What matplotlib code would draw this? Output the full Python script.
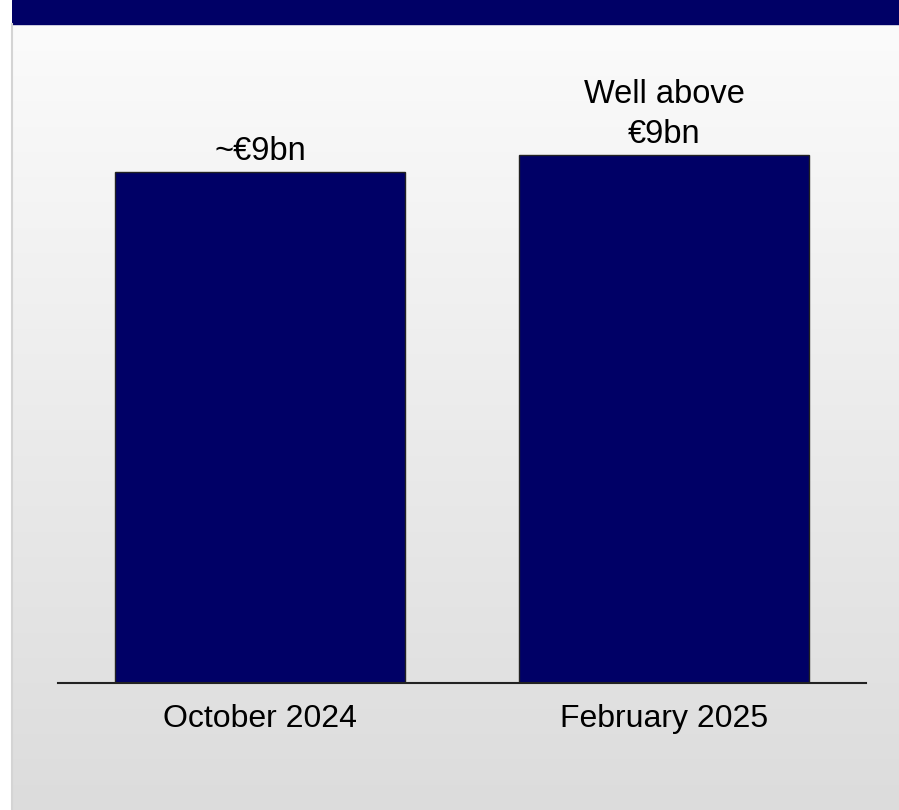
import matplotlib
matplotlib.use('Agg')
import matplotlib.pyplot as plt
import numpy as np

# valeurs du graphique
periodes = ['October 2024', 'February 2025']
valeurs = [9.0, 9.3]
etiquettes = ['~€9bn', 'Well above\n€9bn']

bleu = '#000066'

fig = plt.figure(figsize=(8.99, 8.10), dpi=100)
fig.patch.set_facecolor('white')

# fond en dégradé (clair en haut, gris en bas)
fond = fig.add_axes([12/899, 0, 1 - 12/899, 1], zorder=0)
degrade = np.linspace(0, 1, 256).reshape(-1, 1)
fond.imshow(degrade, aspect='auto', cmap=matplotlib.colors.LinearSegmentedColormap.from_list(
    'fond', ['#fcfcfc', '#dcdcdc']), extent=[0, 1, 0, 1], origin='upper')
fond.set_xlim(0, 1)
fond.set_ylim(0, 1)
fond.axis('off')
# bandeau du titre
fond.axhspan(1 - 24/810, 1, color=bleu)
# petite bordure à gauche
fig.add_artist(plt.Line2D([11.5/899, 11.5/899], [0, 1 - 24/810], color='#d4d4d4', lw=1.5,
                          transform=fig.transFigure))

ax = fig.add_axes([58/899, (810 - 683)/810, 808/899, (683 - 25)/810], zorder=1)
ax.patch.set_alpha(0)

x = np.arange(len(periodes))
ax.bar(x, valeurs, width=0.716, color=bleu, edgecolor='#222222', linewidth=1)
ax.set_xlim(-0.5, 1.5)
ax.set_ylim(0, 9 * 658 / 511)

for xi, v, t in zip(x, valeurs, etiquettes):
    ax.text(xi, v + 0.08, t, ha='center', va='bottom', fontsize=23.5,
            family='Liberation Sans', linespacing=1.4)

ax.set_xticks(x)
ax.set_xticklabels(periodes, fontsize=23, family='Liberation Sans')
ax.tick_params(axis='x', length=0, pad=15)
ax.set_yticks([])
for s in ['top', 'right', 'left']:
    ax.spines[s].set_visible(False)
ax.spines['bottom'].set_linewidth(1.5)
ax.spines['bottom'].set_color('#222222')

fig.savefig('out.png', dpi=100)
